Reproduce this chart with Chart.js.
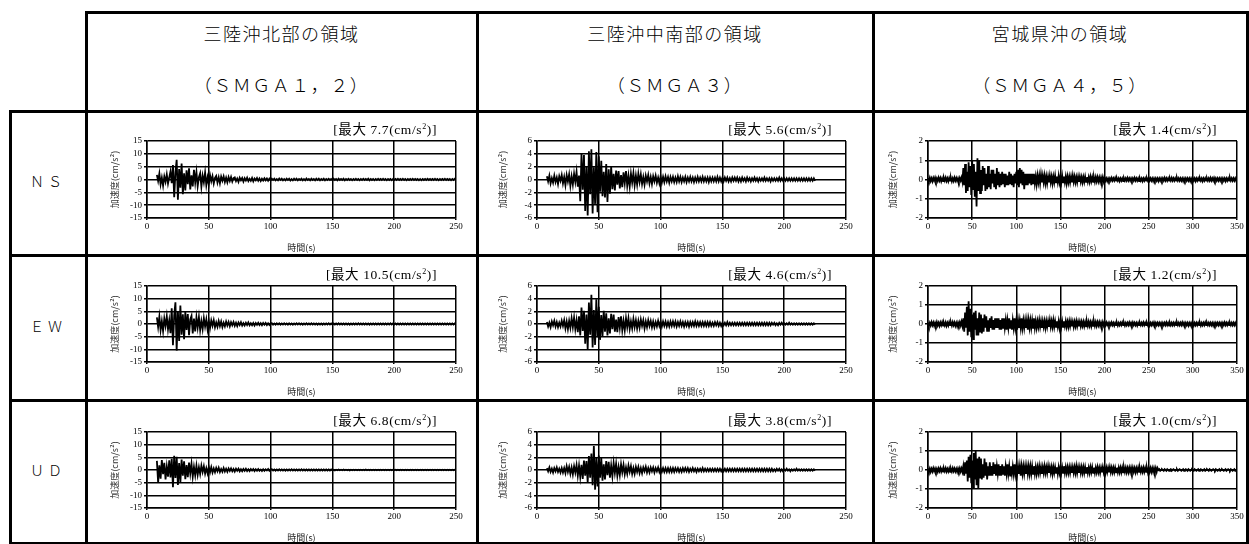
<!DOCTYPE html>
<html lang="ja">
<head>
<meta charset="utf-8">
<script src="https://cdn.jsdelivr.net/npm/chart.js@4.4.1/dist/chart.umd.min.js"></script>
<style>
  body { margin: 0; width: 1249px; height: 544px; background: #fff; position: relative; overflow: hidden;
         font-family: "Liberation Serif", "Noto Sans CJK JP", serif; color: #000; }
  .ln { position: absolute; background: #000; }
  .hd { position: absolute; text-align: center; font-family: "Noto Sans CJK JP", sans-serif; font-weight: 300; font-size: 18px; letter-spacing: 1.5px; white-space: nowrap; transform: translateY(-50%); }
  .rl { position: absolute; left: 10px; width: 76px; text-align: center; font-family: "Noto Sans CJK JP", sans-serif; font-weight: 300; font-size: 14px; letter-spacing: 4px; transform: translateY(-50%); }
  .pk { position: absolute; font-size: 13.5px; letter-spacing: 0.6px; white-space: nowrap; transform: translate(-100%, -50%); }
  .pk sup { font-size: 8px; }
  canvas { position: absolute; }
</style>
</head>
<body>
<script>
// 見出し・ラベル
const regionNames = ["三陸沖北部の領域", "三陸沖中南部の領域", "宮城県沖の領域"];
const smgaNames = ["（ＳＭＧＡ１，２）", "（ＳＭＧＡ３）", "（ＳＭＧＡ４，５）"];
const components = ["ＮＳ", "ＥＷ", "ＵＤ"];

// 最大加速度 (cm/s2) [NS, EW, UD]
const peakNorth = [7.7, 10.5, 6.8];
const peakMid = [5.6, 4.6, 3.8];
const peakMiyagi = [1.4, 1.2, 1.0];

// 軸
const xMaxNorth = 250, xMaxMid = 250, xMaxMiyagi = 350;
const yMaxNorth = 15, yMaxMid = 6, yMaxMiyagi = 2;
const yStepNorth = 5, yStepMid = 2, yStepMiyagi = 1;
const xStep = 50;

// 加速度波形 (1秒ごと)
const startNorth = 8;
const nsNorth = [
  1.8,-0.6,2.3,-1.9,0.7,-2.4,1.2,-0.9,2.0,-1.6,0.8,
  3.1,-1.4,5.6,-6.9,2.8,7.7,-7.9,4.1,-3.2,6.2,-5.7,2.4,
  -4.3,3.6,-1.8,4.4,-3.9,1.6,-2.7,3.8,-1.2,2.9,
  -2.6,0.9,2.4,-2.8,1.5,-1.1,2.7,-2.2,0.8,-1.9,
  1.7,-0.7,1.3,-1.6,0.6,1.4,-1.2,0.9,-1.5,1.1,
  -0.5,1.2,-1.0,0.7,-1.1,0.9,-0.6,1.0,-0.8,0.5,
  0.8,-0.6,0.4,-0.9,0.7,-0.3,0.6,-0.8,0.5,-0.4,
  0.7,-0.6,0.3,-0.5,0.6,-0.7,0.4,-0.3,0.6,-0.5,
  0.4,-0.6,0.3,-0.4,0.5,-0.3,0.4,-0.5,0.3,-0.4,
  0.3,-0.2,0.3,-0.3,0.2,-0.3,0.4,-0.2,0.3,-0.3,
  0.2,-0.3,0.3,-0.2,0.3,-0.4,0.2,-0.3,0.3,-0.2,
  0.3,-0.3,0.2,-0.2,0.3,-0.3,0.2,-0.3,0.4,-0.2,
  0.2,-0.3,0.3,-0.2,0.2,-0.3,0.3,-0.2,0.3,-0.3,
  0.2,-0.2,0.3,-0.3,0.2,-0.2,0.3,-0.2,0.2,-0.3,
  0.3,-0.2,0.2,-0.3,0.3,-0.2,0.2,-0.2,0.3,-0.3,
  0.2,-0.2,0.3,-0.2,0.2,-0.3,0.2,-0.2,0.3,-0.2,
  0.2,-0.3,0.2,-0.2,0.3,-0.2,0.2,-0.2,0.3,-0.3,
  0.2,-0.2,0.2,-0.3,0.2,-0.2,0.3,-0.2,0.2,-0.2,
  0.3,-0.2,0.2,-0.3,0.2,-0.2,0.2,-0.3,0.2,-0.2,
  0.2,-0.2,0.3,-0.2,0.2,-0.2,0.3,-0.2,0.2,-0.3,
  0.2,-0.2,0.2,-0.2,0.3,-0.2,0.2,-0.2,0.2,-0.3,
  0.2,-0.3,0.2,-0.2,0.2,-0.2,0.3,-0.2,0.2,-0.2,
  0.2,-0.2,0.3,-0.2,0.2,-0.3,0.2,-0.2,0.2,-0.2,
  0.3,-0.2,0.2,-0.2,0.2,-0.3,0.2,-0.2,0.3,-0.2
];
const ewNorth = [
  2.6,-1.2,2.9,-2.4,1.1,-2.8,2.2,-0.8,3.0,-2.1,1.4,
  -3.6,6.2,-8.4,3.3,8.6,-10.5,5.1,-6.7,7.3,-4.2,3.8,-6.0,
  4.7,-2.3,3.9,-4.4,1.8,3.2,-3.7,2.1,-2.9,2.6,
  -1.4,2.7,-2.4,1.2,-2.0,2.3,-1.0,1.8,-2.1,1.3,
  -1.6,1.4,-0.7,1.5,-1.3,0.6,-1.1,1.2,-0.8,1.0,
  -1.2,0.5,-0.9,1.0,-0.6,0.8,-0.9,0.7,-0.5,0.8,
  -0.7,0.5,-0.8,0.6,-0.4,0.7,-0.6,0.3,-0.6,0.5,
  -0.4,0.6,-0.5,0.3,-0.5,0.4,-0.6,0.4,-0.3,0.5,
  -0.4,0.3,-0.5,0.4,-0.3,0.4,-0.4,0.3,-0.4,0.3,
  0.3,-0.3,0.2,-0.3,0.3,-0.2,0.3,-0.3,0.2,-0.2,
  0.3,-0.2,0.2,-0.3,0.3,-0.2,0.2,-0.3,0.2,-0.2,
  0.3,-0.2,0.3,-0.2,0.2,-0.3,0.2,-0.2,0.3,-0.2,
  0.2,-0.2,0.3,-0.2,0.2,-0.2,0.2,-0.3,0.2,-0.2,
  0.2,-0.3,0.2,-0.2,0.2,-0.2,0.3,-0.2,0.2,-0.2,
  0.2,-0.2,0.2,-0.2,0.3,-0.2,0.2,-0.2,0.2,-0.2,
  0.2,-0.2,0.2,-0.3,0.2,-0.2,0.2,-0.2,0.2,-0.2,
  0.3,-0.2,0.2,-0.2,0.2,-0.2,0.2,-0.2,0.2,-0.3,
  0.2,-0.2,0.2,-0.2,0.2,-0.2,0.2,-0.2,0.2,-0.2,
  0.2,-0.2,0.2,-0.2,0.2,-0.2,0.3,-0.2,0.2,-0.2,
  0.2,-0.2,0.2,-0.2,0.2,-0.2,0.2,-0.2,0.2,-0.2,
  0.2,-0.2,0.2,-0.2,0.2,-0.2,0.2,-0.2,0.2,-0.2,
  0.2,-0.2,0.2,-0.2,0.2,-0.2,0.2,-0.2,0.2,-0.2,
  0.2,-0.2,0.2,-0.2,0.2,-0.2,0.2,-0.2,0.2,-0.2,
  0.2,-0.2,0.2,-0.2,0.2,-0.2,0.2,-0.2,0.2,-0.2
];
const udNorth = [
  3.6,-4.9,1.8,-3.4,3.9,-1.6,2.8,-3.7,1.4,-2.6,3.8,
  -2.9,4.4,-6.8,5.6,-3.1,5.2,-5.9,2.7,-4.8,4.1,-2.2,3.4,
  -3.6,1.9,-2.8,2.9,-1.4,2.5,-2.7,1.2,-2.1,1.8,
  -1.9,1.1,-1.6,1.7,-0.8,1.5,-1.4,0.7,-1.3,1.2,
  -0.9,1.1,-1.0,0.6,-0.9,0.8,-0.5,0.9,-0.8,0.4,
  -0.7,0.8,-0.6,0.5,-0.7,0.6,-0.4,0.6,-0.5,0.4,
  -0.6,0.5,-0.3,0.5,-0.5,0.3,-0.5,0.4,-0.3,0.5,
  -0.4,0.3,-0.4,0.4,-0.2,0.4,-0.4,0.3,-0.3,0.4,
  -0.3,0.2,-0.4,0.3,-0.3,0.3,-0.2,0.4,-0.3,0.3,
  0.3,-0.2,0.2,-0.3,0.2,-0.2,0.3,-0.2,0.2,-0.2,
  0.2,-0.3,0.2,-0.2,0.2,-0.2,0.3,-0.2,0.2,-0.2,
  0.2,-0.2,0.2,-0.2,0.3,-0.2,0.2,-0.2,0.2,-0.2,
  0.2,-0.2,0.2,-0.2,0.2,-0.2,0.2,-0.2,0.2,-0.2,
  0.2,-0.2,0.2,-0.2,0.2,-0.2,0.2,-0.2,0.2,-0.2,
  0.1,-0.2,0.1,-0.1,0.2,-0.1,0.1,-0.1,0.2,-0.1,
  0.1,-0.1,0.1,-0.2,0.1,-0.1,0.1,-0.1,0.1,-0.1,
  0.1,-0.1,0.1,-0.1,0.1,-0.1,0.2,-0.1,0.1,-0.1,
  0.1,-0.1,0.1,-0.1,0.1,-0.1,0.1,-0.1,0.1,-0.1,
  0.1,-0.1,0.1,-0.1,0.1,-0.1,0.1,-0.1,0.1,-0.1,
  0.1,-0.1,0.1,-0.1,0.1,-0.1,0.1,-0.1,0.1,-0.1,
  0.1,-0.1,0.1,-0.1,0.1,-0.1,0.1,-0.1,0.1,-0.1,
  0.1,-0.1,0.1,-0.1,0.1,-0.1,0.1,-0.1,0.1,-0.1,
  0.1,-0.1,0.1,-0.1,0.1,-0.1,0.1,-0.1,0.1,-0.1,
  0.1,-0.1,0.1,-0.1,0.1,-0.1,0.1,-0.1,0.1,-0.1
];

const startMid = 8;
const nsMid = [
  0.5,-0.3,0.6,-0.6,0.2,-0.5,0.6,-0.4,0.3,-0.7,0.5,-0.2,0.7,
  -0.6,0.4,-0.9,0.7,-0.3,0.8,-1.0,0.5,-0.8,0.9,-0.4,1.2,-1.1,0.6,
  -3.4,4.0,-1.6,3.8,-4.9,2.1,-5.6,4.4,-2.3,4.7,-5.3,1.9,-3.8,4.3,-5.1,3.6,
  -1.9,2.9,-2.6,1.2,-2.8,2.4,-3.5,1.6,-2.2,2.0,
  -1.5,0.9,-1.7,1.4,-0.8,1.3,-1.4,0.7,-1.2,1.1,
  -0.6,1.3,-1.0,0.6,-1.1,0.9,-0.5,1.0,-0.9,0.6,
  -0.8,0.9,-0.4,0.8,-0.7,0.4,-0.8,0.6,-0.3,0.7,
  -0.6,0.4,-0.7,0.5,-0.3,0.6,-0.5,0.3,-0.6,0.5,
  -0.5,0.4,-0.4,0.5,-0.3,0.4,-0.5,0.4,-0.3,0.4,
  -0.4,0.3,-0.4,0.5,-0.3,0.4,-0.4,0.3,-0.3,0.4,
  -0.4,0.3,-0.3,0.4,-0.3,0.3,-0.4,0.3,-0.3,0.4,
  -0.3,0.3,-0.3,0.4,-0.3,0.3,-0.3,0.3,-0.4,0.3,
  -0.3,0.3,-0.3,0.3,-0.3,0.4,-0.3,0.3,-0.3,0.3,
  -0.3,0.3,-0.2,0.3,-0.3,0.2,-0.3,0.3,-0.2,0.3,
  -0.2,0.3,-0.3,0.2,-0.3,0.3,-0.2,0.2,-0.3,0.3,
  -0.2,0.2,-0.3,0.2,-0.2,0.3,-0.2,0.2,-0.3,0.2,
  -0.2,0.2,-0.2,0.3,-0.2,0.2,-0.2,0.2,-0.3,0.2,
  -0.2,0.2,-0.2,0.2,-0.2,0.3,-0.2,0.2,-0.2,0.2,
  -0.2,0.2,-0.2,0.2,-0.2,0.2,-0.2,0.2,-0.2,0.2,
  -0.2,0.2,-0.2,0.2,-0.2,0.2,-0.2,0.2,-0.2,0.2,
  -0.2,0.2,-0.2,0.2,-0.2
];
const ewMid = [
  0.3,-0.4,0.2,-0.5,0.4,-0.2,0.5,-0.4,0.3,-0.5,0.2,-0.4,0.5,
  -0.3,0.6,-0.7,0.4,-0.8,0.5,-0.6,0.9,-0.5,1.0,-0.8,0.6,-1.3,1.2,
  -1.8,2.6,-1.1,2.1,-3.1,1.5,-4.0,3.4,-1.7,4.6,-3.7,2.2,-3.3,3.9,-2.1,2.7,
  -2.5,1.4,-1.9,2.1,-1.2,1.7,-1.8,0.9,-1.5,1.6,
  -0.8,1.5,-1.2,0.7,-1.3,1.1,-0.6,1.2,-1.0,0.5,
  -1.0,0.9,-0.5,0.9,-0.8,0.4,-0.7,0.8,-0.5,0.6,
  -0.7,0.5,-0.6,0.7,-0.3,0.6,-0.7,0.4,-0.5,0.6,
  -0.3,0.5,-0.5,0.4,-0.5,0.3,-0.4,0.5,-0.3,0.4,
  -0.4,0.4,-0.3,0.4,-0.4,0.3,-0.4,0.4,-0.3,0.4,
  -0.3,0.4,-0.4,0.3,-0.3,0.4,-0.3,0.3,-0.4,0.3,
  -0.3,0.3,-0.4,0.3,-0.3,0.3,-0.3,0.4,-0.3,0.3,
  -0.3,0.3,-0.3,0.3,-0.3,0.3,-0.3,0.3,-0.3,0.3,
  -0.3,0.2,-0.3,0.3,-0.2,0.3,-0.3,0.2,-0.3,0.2,
  -0.2,0.2,-0.2,0.3,-0.2,0.2,-0.2,0.2,-0.2,0.2,
  -0.2,0.2,-0.2,0.2,-0.2,0.2,-0.2,0.2,-0.2,0.2,
  -0.2,0.2,-0.2,0.2,-0.2,0.2,-0.2,0.2,-0.2,0.2,
  -0.2,0.2,-0.2,0.2,-0.2,0.2,-0.2,0.2,-0.2,0.2,
  -0.1,0.2,-0.2,0.1,-0.2,0.2,-0.1,0.2,-0.1,0.1,
  -0.1,0.1,-0.1,0.2,-0.1,0.1,-0.1,0.1,-0.1,0.1,
  -0.1,0.1,-0.1,0.1,-0.1,0.1,-0.1,0.1,-0.1,0.1,
  -0.1,0.1,-0.1,0.1,-0.1
];
const udMid = [
  0.3,-0.2,0.4,-0.3,0.2,-0.4,0.3,-0.2,0.4,-0.3,0.2,-0.4,0.3,
  -0.4,0.3,-0.5,0.6,-0.3,0.5,-0.6,0.4,-0.7,0.6,-0.4,0.8,-0.9,0.7,
  -1.1,0.8,-1.4,1.5,-0.9,1.4,-1.9,2.2,-1.2,2.6,-2.4,3.8,-3.1,1.9,-2.6,2.3,
  -1.2,1.9,-1.7,0.9,-1.5,1.4,-0.8,1.3,-1.2,0.7,
  -1.0,1.1,-0.5,1.0,-0.9,0.5,-0.8,0.9,-0.4,0.8,
  -0.7,0.4,-0.6,0.7,-0.3,0.6,-0.6,0.3,-0.6,0.5,
  -0.3,0.5,-0.5,0.3,-0.5,0.4,-0.2,0.5,-0.4,0.3,
  -0.4,0.4,-0.2,0.4,-0.4,0.3,-0.2,0.4,-0.3,0.3,
  -0.3,0.3,-0.3,0.3,-0.3,0.3,-0.3,0.3,-0.3,0.3,
  -0.3,0.3,-0.2,0.3,-0.3,0.2,-0.3,0.3,-0.2,0.3,
  -0.2,0.3,-0.3,0.2,-0.2,0.3,-0.2,0.2,-0.3,0.2,
  -0.2,0.2,-0.2,0.3,-0.2,0.2,-0.2,0.2,-0.2,0.2,
  -0.2,0.2,-0.2,0.2,-0.2,0.2,-0.2,0.2,-0.2,0.2,
  -0.2,0.2,-0.2,0.2,-0.2,0.2,-0.2,0.2,-0.2,0.2,
  -0.2,0.2,-0.2,0.2,-0.2,0.2,-0.2,0.2,-0.2,0.2,
  -0.2,0.2,-0.2,0.2,-0.2,0.2,-0.2,0.2,-0.2,0.2,
  -0.2,0.2,-0.2,0.2,-0.2,0.2,-0.2,0.2,-0.2,0.2,
  -0.2,0.1,-0.2,0.2,-0.1,0.2,-0.2,0.1,-0.2,0.1,
  -0.1,0.2,-0.1,0.1,-0.2,0.1,-0.1,0.1,-0.1,0.2,
  -0.1,0.1,-0.1,0.1,-0.1,0.1,-0.1,0.1,-0.1,0.1,
  -0.1,0.1,-0.1,0.1,-0.1
];

const startMiyagi = 0;
const nsMiyagi = [
  0.08,-0.06,0.1,-0.08,0.06,-0.1,0.08,-0.06,0.1,-0.08,
  0.06,-0.08,0.1,-0.06,0.08,-0.1,0.06,-0.08,0.08,-0.06,
  0.1,-0.08,0.06,-0.1,0.08,-0.06,0.08,-0.1,0.06,-0.08,
  0.1,-0.06,0.08,-0.08,0.06,-0.1,0.08,-0.06,0.1,-0.12,
  0.6,-0.3,0.8,-0.7,0.4,-0.6,0.9,-0.4,0.7,-0.8,1.0,-0.5,0.8,-0.9,0.4,-1.4,1.1,-0.6,1.0,-0.7,0.5,
  -0.6,0.7,-0.3,0.6,-0.6,0.3,-0.5,0.7,-0.4,0.3,
  -0.5,0.5,-0.2,0.5,-0.4,0.3,-0.5,0.6,-0.3,0.4,
  -0.4,0.3,-0.3,0.4,-0.2,0.3,-0.4,0.3,-0.3,0.2,
  -0.3,0.4,-0.2,0.3,-0.3,0.2,-0.4,0.3,-0.2,0.4,
  -0.3,0.5,-0.4,0.6,-0.2,0.5,-0.3,0.4,-0.5,0.3,
  -0.3,0.3,-0.3,0.3,-0.2,0.3,-0.3,0.3,-0.2,0.3,
  -0.2,0.15,-0.25,0.2,-0.15,0.2,-0.2,0.25,-0.15,0.2,
  -0.15,0.2,-0.2,0.15,-0.2,0.15,-0.15,0.2,-0.15,0.15,
  -0.2,0.15,-0.15,0.2,-0.15,0.15,-0.15,0.2,-0.15,0.15,
  -0.15,0.2,-0.15,0.15,-0.15,0.15,-0.2,0.15,-0.15,0.15,
  -0.15,0.15,-0.15,0.2,-0.12,0.15,-0.15,0.12,-0.15,0.15,
  -0.12,0.15,-0.12,0.12,-0.15,0.12,-0.12,0.15,-0.12,0.12,
  -0.12,0.12,-0.12,0.15,-0.1,0.12,-0.12,0.1,-0.12,0.12,
  -0.1,0.12,-0.1,0.1,-0.12,0.1,-0.1,0.12,-0.1,0.1,
  -0.06,0.06,-0.08,0.06,-0.06,0.06,-0.06,0.08,-0.06,0.06,
  -0.06,0.08,-0.06,0.06,-0.06,0.06,-0.08,0.06,-0.06,0.06,
  -0.08,0.06,-0.06,0.06,-0.06,0.08,-0.06,0.06,-0.06,0.06,
  -0.06,0.06,-0.06,0.08,-0.06,0.06,-0.06,0.06,-0.08,0.06,
  -0.06,0.06,-0.08,0.06,-0.06,0.06,-0.06,0.06,-0.06,0.08,
  -0.06,0.06,-0.06,0.06,-0.08,0.06,-0.06,0.06,-0.06,0.06,
  -0.08,0.06,-0.06,0.06,-0.06,0.06,-0.06,0.08,-0.06,0.06,
  -0.06,0.06,-0.06,0.06,-0.06,0.08,-0.06,0.06,-0.06,0.06,
  -0.06,0.08,-0.06,0.06,-0.06,0.06,-0.06,0.06,-0.08,0.06,
  -0.06,0.06,-0.06,0.06,-0.06,0.06,-0.08,0.06,-0.06,0.06,
  -0.06,0.06,-0.08,0.06,-0.06,0.06,-0.06,0.06,-0.06,0.06,
  -0.08,0.06,-0.06,0.06,-0.06,0.06,-0.06,0.06,-0.06,0.08,
  -0.06,0.06,-0.06,0.08,-0.06,0.06,-0.06,0.06,-0.06,0.06,
  -0.06,0.06,-0.06,0.06,-0.06,0.06,-0.08,0.06,-0.06,0.06,
  -0.06,0.08,-0.06,0.06,-0.06,0.06,-0.06,0.06,-0.06,0.06,
  -0.06
];
const ewMiyagi = [
  0.08,-0.1,0.06,-0.08,0.1,-0.06,0.08,-0.1,0.06,-0.08,
  0.1,-0.08,0.06,-0.1,0.08,-0.06,0.1,-0.08,0.06,-0.08,
  0.08,-0.1,0.06,-0.08,0.1,-0.06,0.08,-0.08,0.1,-0.06,
  0.08,-0.1,0.06,-0.12,0.08,-0.06,0.1,-0.08,0.12,-0.1,
  0.3,-0.4,0.6,-0.2,0.9,-0.6,1.2,-0.4,0.8,-0.7,0.5,-0.8,0.6,-0.3,0.7,-0.6,0.3,-0.6,0.6,-0.4,0.5,
  -0.5,0.3,-0.4,0.5,-0.2,0.4,-0.4,0.2,-0.4,0.3,
  -0.2,0.4,-0.3,0.2,-0.3,0.3,-0.2,0.3,-0.2,0.3,
  -0.3,0.2,-0.3,0.3,-0.2,0.3,-0.2,0.2,-0.3,0.2,
  -0.2,0.3,-0.2,0.2,-0.3,0.2,-0.2,0.3,-0.2,0.2,
  -0.3,0.2,-0.2,0.2,-0.2,0.3,-0.2,0.2,-0.2,0.2,
  -0.2,0.2,-0.3,0.2,-0.2,0.2,-0.2,0.2,-0.2,0.3,
  -0.2,0.15,-0.2,0.15,-0.15,0.2,-0.15,0.15,-0.2,0.15,
  -0.15,0.15,-0.2,0.15,-0.15,0.15,-0.15,0.2,-0.15,0.15,
  -0.15,0.2,-0.15,0.15,-0.15,0.15,-0.15,0.15,-0.2,0.15,
  -0.15,0.15,-0.15,0.15,-0.12,0.15,-0.15,0.12,-0.15,0.15,
  -0.12,0.15,-0.12,0.12,-0.15,0.12,-0.12,0.15,-0.12,0.12,
  -0.12,0.12,-0.12,0.12,-0.1,0.12,-0.12,0.1,-0.12,0.12,
  -0.1,0.12,-0.1,0.1,-0.12,0.1,-0.1,0.12,-0.1,0.1,
  -0.1,0.1,-0.08,0.1,-0.1,0.08,-0.1,0.1,-0.08,0.1,
  -0.06,0.08,-0.06,0.06,-0.08,0.06,-0.06,0.08,-0.06,0.06,
  -0.08,0.06,-0.06,0.06,-0.08,0.06,-0.06,0.06,-0.06,0.08,
  -0.06,0.06,-0.08,0.06,-0.06,0.06,-0.06,0.08,-0.06,0.06,
  -0.06,0.08,-0.06,0.06,-0.06,0.06,-0.08,0.06,-0.06,0.06,
  -0.06,0.06,-0.06,0.08,-0.06,0.06,-0.06,0.06,-0.06,0.06,
  -0.08,0.06,-0.06,0.06,-0.06,0.08,-0.06,0.06,-0.06,0.06,
  -0.06,0.06,-0.06,0.06,-0.08,0.06,-0.06,0.06,-0.06,0.08,
  -0.06,0.06,-0.08,0.06,-0.06,0.06,-0.06,0.06,-0.06,0.06,
  -0.06,0.08,-0.06,0.06,-0.06,0.06,-0.06,0.08,-0.06,0.06,
  -0.06,0.06,-0.06,0.06,-0.08,0.06,-0.06,0.06,-0.06,0.06,
  -0.08,0.06,-0.06,0.06,-0.06,0.06,-0.06,0.06,-0.08,0.06,
  -0.06,0.06,-0.06,0.08,-0.06,0.06,-0.06,0.06,-0.06,0.06,
  -0.06,0.06,-0.08,0.06,-0.06,0.06,-0.06,0.06,-0.06,0.06,
  -0.06,0.06,-0.06,0.06,-0.06,0.08,-0.06,0.06,-0.06,0.06,
  -0.06,0.06,-0.06,0.06,-0.06,0.06,-0.06,0.06,-0.06,0.06,
  -0.06
];
const udMiyagi = [
  0.08,-0.06,0.08,-0.1,0.06,-0.08,0.1,-0.06,0.08,-0.08,
  0.06,-0.1,0.08,-0.06,0.1,-0.08,0.06,-0.08,0.08,-0.06,
  0.1,-0.08,0.06,-0.08,0.08,-0.1,0.06,-0.08,0.1,-0.06,
  0.08,-0.08,0.06,-0.1,0.08,-0.06,0.1,-0.08,0.08,-0.1,
  0.2,-0.3,0.4,-0.2,0.5,-0.6,0.7,-0.4,0.8,-0.7,0.5,-0.9,0.9,-0.5,1.0,-0.8,0.6,-1.0,0.7,-0.4,0.6,
  -0.5,0.3,-0.4,0.6,-0.3,0.4,-0.5,0.2,-0.3,0.4,
  -0.3,0.2,-0.3,0.4,-0.2,0.3,-0.3,0.2,-0.2,0.3,
  -0.3,0.2,-0.3,0.3,-0.2,0.2,-0.3,0.2,-0.2,0.3,
  -0.2,0.2,-0.3,0.2,-0.2,0.2,-0.2,0.3,-0.2,0.2,
  -0.2,0.2,-0.2,0.2,-0.3,0.2,-0.2,0.2,-0.2,0.2,
  -0.2,0.2,-0.2,0.2,-0.2,0.2,-0.2,0.2,-0.2,0.2,
  -0.2,0.15,-0.2,0.15,-0.15,0.2,-0.15,0.15,-0.2,0.15,
  -0.15,0.2,-0.15,0.15,-0.15,0.2,-0.15,0.15,-0.15,0.15,
  -0.2,0.15,-0.15,0.15,-0.15,0.15,-0.2,0.15,-0.15,0.15,
  -0.15,0.15,-0.15,0.2,-0.15,0.15,-0.15,0.15,-0.15,0.15,
  -0.15,0.15,-0.15,0.15,-0.15,0.15,-0.15,0.2,-0.15,0.15,
  -0.15,0.15,-0.15,0.15,-0.15,0.15,-0.15,0.15,-0.15,0.15,
  -0.15,0.12,-0.15,0.15,-0.12,0.15,-0.15,0.12,-0.15,0.12,
  -0.12,0.15,-0.12,0.12,-0.15,0.12,-0.12,0.15,-0.12,0.12,
  -0.15,0.12,-0.12,0.12,-0.12,0.15,-0.12,0.12,-0.12,0.12,
  -0.12,0.12,-0.12,0.12,-0.12,0.12,-0.12,0.12,-0.12,0.12,
  -0.12,0.12,-0.1,0.12,-0.12,0.1,-0.12,0.12,-0.1,0.12,
  -0.1,0.12,-0.1,0.1,-0.12,0.1,-0.1,0.12,-0.1,0.1,
  -0.1,0.1,-0.1,0.12,-0.1,0.1,-0.1,0.1,-0.12,0.1,
  -0.1,0.1,-0.1,0.1,-0.1,0.1,-0.1,0.1,-0.1,0.1,
  0.0,0.04,-0.04,0.0,0.04,0.0,-0.04,0.04,0.0,-0.04,
  0.04,0.0,-0.04,0.0,0.04,-0.04,0.0,0.04,0.0,-0.04,
  0.0,0.04,-0.04,0.0,0.04,0.0,-0.04,0.0,0.04,-0.04,
  0.0,0.04,0.0,-0.04,0.04,0.0,-0.04,0.0,0.04,0.0,
  -0.04,0.04,0.0,-0.04,0.0,0.04,-0.04,0.0,0.04,0.0,
  -0.04,0.0,0.04,-0.04,0.0,0.04,0.0,-0.04,0.04,0.0,
  -0.04,0.0,0.04,0.0,-0.04,0.04,0.0,-0.04,0.0,0.04,
  -0.04,0.0,0.04,0.0,-0.04,0.0,0.04,-0.04,0.0,0.04,
  0.0,-0.04,0.04,0.0,-0.04,0.0,0.04,-0.04,0.0,0.04,
  0.0,-0.04,0.0,0.04,-0.04,0.0,0.04,0.0,-0.04,0.04,
  0.0
];

// ---- 表の罫線 ----
const tableTop = 12, headBottom = 111, tableBottom = 543;
const rowLines = [111, 255, 400, 543];
const colLines = [86, 477, 873, 1247];
const tableLeft = 10;
const lw = 3;

function line(x, y, w, h) {
  const d = document.createElement("div");
  d.className = "ln";
  d.style.left = x + "px"; d.style.top = y + "px";
  d.style.width = w + "px"; d.style.height = h + "px";
  document.body.appendChild(d);
}
line(colLines[0] - 1, tableTop - 1, colLines[3] - colLines[0] + lw, lw);
rowLines.forEach(y => line(tableLeft - 1, y - 1, colLines[3] - tableLeft + lw, lw));
line(tableLeft - 1, headBottom - 1, lw, tableBottom - headBottom + lw);
colLines.forEach(x => line(x - 1, tableTop - 1, lw, tableBottom - tableTop + lw));

function label(cls, text, x, y, w) {
  const d = document.createElement("div");
  d.className = cls;
  d.innerHTML = text;
  d.style.left = x + "px"; d.style.top = y + "px";
  if (w) d.style.width = w + "px";
  document.body.appendChild(d);
  return d;
}
for (let c = 0; c < 3; c++) {
  label("hd", regionNames[c], colLines[c], 33, colLines[c + 1] - colLines[c]);
  label("hd", smgaNames[c], colLines[c], 84, colLines[c + 1] - colLines[c]);
}
for (let r = 0; r < 3; r++) {
  label("rl", components[r], tableLeft, (rowLines[r] + rowLines[r + 1]) / 2 - 2);
}

// ---- 波形グラフ ----
const plotRows = [ { top: 141, bottom: 218 }, { top: 286, bottom: 362 }, { top: 432, bottom: 508 } ];
const plotCols = [
  { left: 147, right: 456, titleX: 115, peakRight: 437 },
  { left: 537, right: 846, titleX: 503, peakRight: 832 },
  { left: 928, right: 1237, titleX: 893, peakRight: 1217 }
];

const tickFont = { family: "Liberation Serif", size: 9 };

function waveChart(col, row, values, start, xMax, yMax, yStep, peak) {
  const yW = col.left - col.titleX + 6;
  const cl = col.left - yW;
  const ct = row.top - 10;
  const w = col.right - col.left + yW + 14;
  const h = row.bottom - row.top + 10 + 36;
  const canvas = document.createElement("canvas");
  canvas.width = w; canvas.height = h;
  canvas.style.left = cl + "px"; canvas.style.top = ct + "px";
  canvas.style.width = w + "px"; canvas.style.height = h + "px";
  document.body.appendChild(canvas);

  new Chart(canvas, {
    type: "line",
    data: {
      datasets: [{
        data: values.map((v, i) => ({ x: start + i, y: v })),
        borderColor: "#000",
        borderWidth: 1.8,
        pointRadius: 0,
        tension: 0
      }]
    },
    options: {
      responsive: false,
      animation: false,
      layout: { padding: { top: 10, right: 14, left: 0, bottom: 0 } },
      plugins: { legend: { display: false }, tooltip: { enabled: false } },
      scales: {
        x: {
          type: "linear", min: 0, max: xMax,
          ticks: { stepSize: xStep, autoSkip: false, font: tickFont, color: "#000", maxRotation: 0, padding: 1 },
          grid: { color: "#000", lineWidth: 1.5, tickLength: 2 },
          border: { color: "#000", width: 1.5 },
          title: { display: true, text: "時間(s)", font: { family: "Noto Sans CJK JP", size: 9 }, color: "#222", padding: { top: 0, bottom: 1 } },
          afterFit: s => { s.height = 36; }
        },
        y: {
          min: -yMax, max: yMax,
          ticks: { stepSize: yStep, autoSkip: false, font: tickFont, color: "#000", padding: 2 },
          grid: { color: "#000", lineWidth: 1.5, tickLength: 3 },
          border: { color: "#000", width: 1.5 },
          title: { display: true, text: "加速度(cm/s²)", font: { family: "Noto Sans CJK JP", size: 9 }, color: "#333", padding: { top: 0.6, bottom: 0 } },
          afterFit: s => { s.width = yW; }
        }
      }
    }
  });

  label("pk", "[最大 " + peak.toFixed(1) + "(cm/s<sup>2</sup>)]", col.peakRight, row.top - 13);
}

const seriesNorth = [nsNorth, ewNorth, udNorth];
const seriesMid = [nsMid, ewMid, udMid];
const seriesMiyagi = [nsMiyagi, ewMiyagi, udMiyagi];
for (let r = 0; r < 3; r++) {
  waveChart(plotCols[0], plotRows[r], seriesNorth[r], startNorth, xMaxNorth, yMaxNorth, yStepNorth, peakNorth[r]);
  waveChart(plotCols[1], plotRows[r], seriesMid[r], startMid, xMaxMid, yMaxMid, yStepMid, peakMid[r]);
  waveChart(plotCols[2], plotRows[r], seriesMiyagi[r], startMiyagi, xMaxMiyagi, yMaxMiyagi, yStepMiyagi, peakMiyagi[r]);
}
</script>
</body>
</html>
